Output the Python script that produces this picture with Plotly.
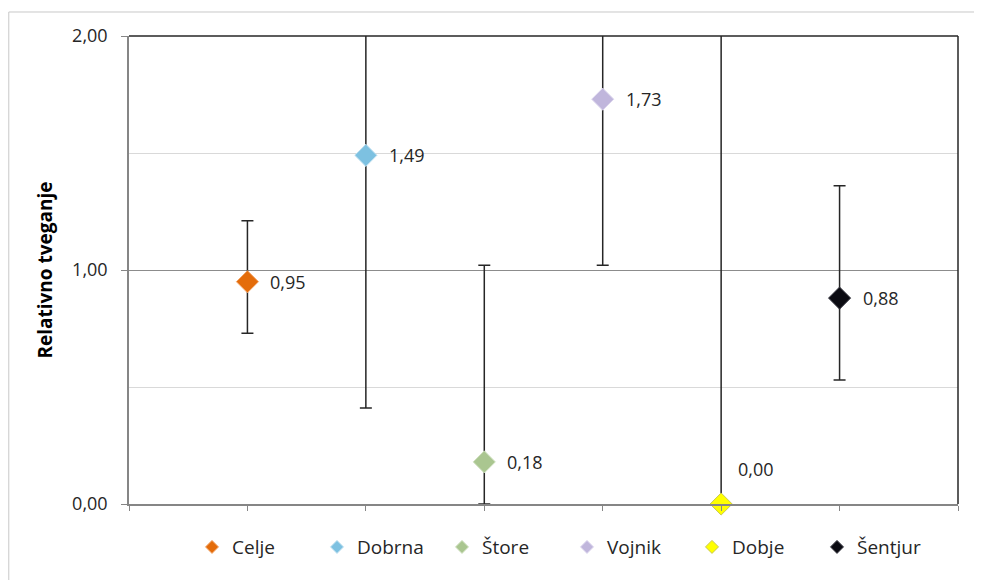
import plotly.graph_objects as go

categories = ["Celje", "Dobrna", "Štore", "Vojnik", "Dobje", "Šentjur"]
x_pos = [1, 2, 3, 4, 5, 6]
relative_risk = [0.95, 1.49, 0.18, 1.73, 0.00, 0.88]
ci_lower = [0.73, 0.41, 0.00, 1.02, 0.00, 0.53]
ci_upper = [1.21, 2.60, 1.02, 2.90, 3.20, 1.36]
marker_colors = ["#E46C0A", "#7DC1E1", "#AAC690", "#C0B6DC", "#FFFF00", "#0B0B12"]
outline_colors = ["#F2A66A", "#BFE0F0", "#CFE0BF", "#DCD6EE", "#C8C850", "#3A3A44"]
label_above = [False, False, False, False, True, False]

y_ticks = [0, 1, 2]
y_tick_labels = ["0,00", "1,00", "2,00"]

FONT = "Open Sans"

fig = go.Figure()

for i, name in enumerate(categories):
    # error bars (clipped to plot area)
    fig.add_trace(go.Scatter(
        x=[x_pos[i]], y=[relative_risk[i]], mode="markers",
        marker=dict(size=1, opacity=0),
        error_y=dict(type="data", symmetric=False,
                     array=[ci_upper[i] - relative_risk[i]],
                     arrayminus=[relative_risk[i] - ci_lower[i]],
                     color="#262626", thickness=1.5, width=6),
        showlegend=False, hoverinfo="skip", cliponaxis=True,
    ))
    # marker (not clipped)
    fig.add_trace(go.Scatter(
        x=[x_pos[i]], y=[relative_risk[i]], mode="markers",
        marker=dict(symbol="diamond", size=17, color=marker_colors[i],
                    line=dict(color=outline_colors[i], width=1)),
        showlegend=False, cliponaxis=False, name=name,
    ))
    # legend entry
    fig.add_trace(go.Scatter(
        x=[None], y=[None], mode="markers", name=name,
        marker=dict(symbol="diamond", size=10, color=marker_colors[i],
                    line=dict(color=outline_colors[i], width=1)),
    ))
    # data label
    fig.add_annotation(
        x=x_pos[i], y=relative_risk[i], xref="x", yref="y",
        text=f"{relative_risk[i]:.2f}".replace(".", ","),
        showarrow=False, xanchor="left", yanchor="middle",
        xshift=15 if label_above[i] else 21,
        yshift=35 if label_above[i] else 0,
        font=dict(family=FONT, size=18, color="#262626"),
    )

fig.update_layout(
    width=982, height=580,
    margin=dict(l=121, r=32, t=28, b=84, autoexpand=False),
    paper_bgcolor="white", plot_bgcolor="white",
    separators=", ",
    font=dict(family=FONT, size=15, color="#262626"),
    xaxis=dict(range=[0, 7], tickvals=list(range(0, 8)), showticklabels=False,
               ticks="outside", ticklen=5, tickcolor="#868686", tickwidth=1,
               showline=True, linecolor="#868686", linewidth=1.5,
               showgrid=False, zeroline=False, automargin=False),
    yaxis=dict(range=[0, 2], tickvals=y_ticks, ticktext=y_tick_labels,
               ticks="outside", ticklen=6, tickcolor="#868686",
               ticklabelstandoff=10, automargin=False,
               showline=True, linecolor="#868686", linewidth=1.5,
               showgrid=True, gridcolor="#8C8C8C", gridwidth=1.2,
               minor=dict(dtick=0.5, showgrid=True, gridcolor="#D9D9D9", gridwidth=1),
               zeroline=False,
               tickfont=dict(family=FONT, size=18, color="#262626"),
               title=dict(text="<b>Relativno tveganje</b>", standoff=14,
                          font=dict(family=FONT, size=19, color="#000000"))),
    legend=dict(orientation="h", x=0.076, xanchor="left", y=-0.092, yanchor="middle",
                entrywidth=80, entrywidthmode="pixels", itemwidth=30,
                font=dict(family=FONT, size=19, color="#262626"),
                bgcolor="rgba(0,0,0,0)"),
    shapes=[
        dict(type="line", xref="x domain", yref="y domain", x0=0, x1=1, y0=1, y1=1,
             line=dict(color="#262626", width=1.5), layer="above"),
        dict(type="line", xref="x domain", yref="y domain", x0=1, x1=1, y0=0, y1=1,
             line=dict(color="#262626", width=1.5), layer="above"),
        dict(type="rect", xref="paper", yref="paper", x0=-0.145, x1=1.06, y0=-0.3, y1=1.0513,
             line=dict(color="#C8C8C8", width=1), layer="below"),
    ],
)

fig.write_html("out.html")
